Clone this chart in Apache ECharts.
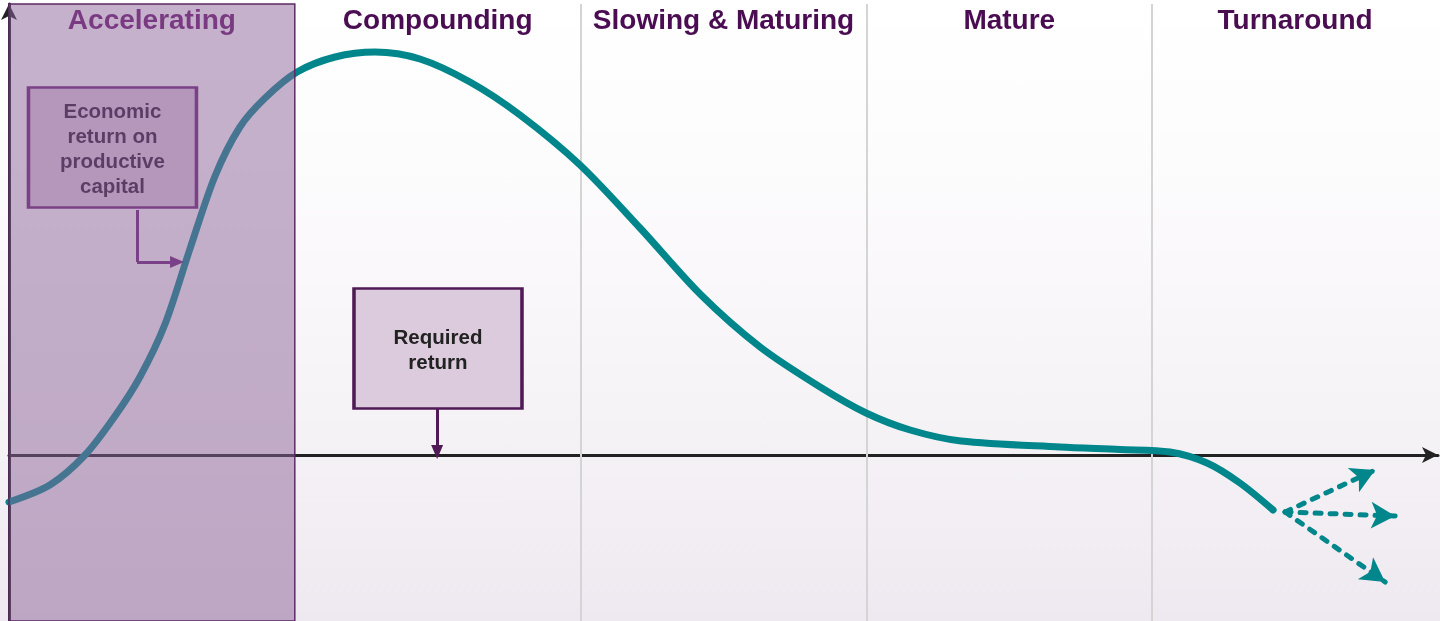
<!DOCTYPE html>
<html>
<head>
<meta charset="utf-8">
<script src="https://cdn.jsdelivr.net/npm/echarts@6/dist/echarts.min.js"></script>
<style>
  html, body { margin: 0; padding: 0; }
  body { background: linear-gradient(to bottom, #ffffff 0%, #fdfcfd 25%, #f5f2f6 70%, #eee9f0 100%); }
  #chart { width: 1440px; height: 621px; }
</style>
</head>
<body>
<div id="chart"></div>
<script>
// phases of the life cycle, one per unit of x
var phases = ['Accelerating', 'Compounding', 'Slowing & Maturing', 'Mature', 'Turnaround'];
var phaseBounds = [2, 3, 4];
var highlightPhase = [0, 1];

// economic return on productive capital, spread over required return (0)
var curveX = [0, 0.143, 0.266, 0.371, 0.458, 0.546, 0.633, 0.721, 0.808, 0.896, 1.008,
              1.141, 1.281, 1.438, 1.613, 1.788, 1.998, 2.208, 2.418, 2.628, 2.838, 2.999,
              3.153, 3.331, 3.677, 3.887, 4.062, 4.192, 4.307, 4.423];
var curveY = [-47, -30, 0, 39, 78, 131, 206, 279, 328, 357, 383,
              398, 403, 396, 373, 340, 290, 227, 161, 108, 68, 42,
              25, 14, 8, 5.5, 3, -8, -28, -55];

// turnaround outcomes (dotted arrows)
var branchStart = [4.465, -57];
var branchEnds = [[4.78, -15], [4.85, -61], [4.815, -127]];
var branchBend = [-0.2, 0, 0.2];

// annotation boxes: text and anchor (centre) in data units
var noteText = ['Economic\nreturn on\nproductive\ncapital', 'Required\nreturn'];
var noteAnchor = [[0.362, 307.5], [1.501, 106.5]];
// connector from note 1 (elbow) and note 2
var note1Path = [[0.448, 245], [0.448, 193], [0.588, 193]];
var note2Path = [[1.498, 46], [1.498, 3]];

var FONT = '"Liberation Sans", Arial, sans-serif';
var TEAL = '#00868b';
var INK = '#222222';
var PURPLE = '#4a0d52';

var curveData = [];
for (var i = 0; i < curveX.length; i++) {
    curveData.push([curveX[i], curveY[i]]);
}

var branchLines = [];
for (var b = 0; b < branchEnds.length; b++) {
    branchLines.push([
        { coord: branchStart },
        { coord: branchEnds[b], lineStyle: { curveness: branchBend[b] } }
    ]);
}

var dividerLines = [];
for (var d = 0; d < phaseBounds.length; d++) {
    dividerLines.push({ xAxis: phaseBounds[d] });
}

var myChart = echarts.init(document.getElementById('chart'));
var option = {
    animation: false,
    grid: { left: 9, right: 2, top: 4, bottom: 0 },
    xAxis: [{
        type: 'value',
        min: 0,
        max: 5,
        axisLine: {
            show: true,
            onZero: true,
            symbol: ['none', 'arrow'],
            symbolSize: [12, 16],
            lineStyle: { color: INK, width: 3 }
        },
        axisTick: { show: false },
        axisLabel: { show: false },
        splitLine: { show: false }
    }, {
        type: 'category',
        position: 'top',
        data: phases,
        axisLine: { show: false },
        axisTick: { show: false },
        splitLine: { show: false },
        axisLabel: {
            inside: true,
            interval: 0,
            margin: 3,
            // the highlighted phase sits under the overlay, so start it a bit brighter
            color: function (value, index) {
                return index === 0 ? '#68106c' : PURPLE;
            },
            fontFamily: FONT,
            fontWeight: 'bold',
            fontSize: 28
        }
    }],
    yAxis: {
        type: 'value',
        min: -166,
        max: 451,
        axisLine: {
            show: true,
            onZero: false,
            symbol: ['none', 'arrow'],
            symbolSize: [12, 16],
            lineStyle: { color: INK, width: 3 }
        },
        axisTick: { show: false },
        axisLabel: { show: false },
        splitLine: { show: false }
    },
    series: [{
        name: 'Economic return',
        type: 'line',
        z: 3,
        data: curveData,
        smooth: 0.3,
        symbol: 'none',
        lineStyle: { color: TEAL, width: 7, cap: 'round' },
        markLine: {
            z: 1,
            silent: true,
            symbol: ['none', 'none'],
            label: { show: false },
            lineStyle: { color: '#d4d4d4', width: 2, type: 'solid' },
            data: dividerLines
        }
    }, {
        name: 'Outcomes',
        type: 'line',
        z: 4,
        data: [],
        markLine: {
            z: 4,
            silent: true,
            symbol: ['none', 'arrow'],
            symbolSize: [20, 24],
            label: { show: false },
            lineStyle: { color: TEAL, width: 5, type: [6, 9], cap: 'round' },
            data: branchLines
        }
    }, {
        name: 'Notes',
        type: 'line',
        z: 6,
        data: [],
        markPoint: {
            z: 6,
            silent: true,
            symbol: 'rect',
            symbolSize: [168, 120],
            itemStyle: { color: '#dccbdc', borderColor: '#4f1a55', borderWidth: 3 },
            label: {
                show: true,
                position: 'inside',
                offset: [0, 2],
                color: INK,
                fontFamily: FONT,
                fontWeight: 'bold',
                fontSize: 20.5,
                lineHeight: 25
            },
            data: [
                {
                    coord: noteAnchor[0], value: noteText[0],
                    itemStyle: { borderColor: '#6a1f78' },
                    label: { formatter: noteText[0], color: '#2a1530' }
                },
                { coord: noteAnchor[1], value: noteText[1], label: { formatter: noteText[1] } }
            ]
        },
        markLine: {
            z: 7,
            silent: true,
            symbol: ['none', 'none'],
            symbolSize: [12, 14],
            label: { show: false },
            lineStyle: { color: '#4f1a55', width: 3, type: 'solid' },
            data: [
                [{ coord: note1Path[0], lineStyle: { color: '#6a1f78' } }, { coord: note1Path[1] }],
                [{ coord: note1Path[1], lineStyle: { color: '#6a1f78' } }, { coord: note1Path[2], symbol: 'triangle' }],
                [{ coord: note2Path[0] }, { coord: note2Path[1], symbol: 'triangle' }]
            ]
        }
    }, {
        name: 'Highlight',
        type: 'line',
        z: 20,
        data: [],
        markArea: {
            z: 20,
            silent: true,
            itemStyle: {
                color: 'rgba(140, 100, 152, 0.5)',
                borderColor: '#5f2a66',
                borderWidth: 1.5
            },
            data: [[{ xAxis: highlightPhase[0] }, { xAxis: highlightPhase[1] }]]
        }
    }]
};
myChart.setOption(option);
</script>
</body>
</html>
